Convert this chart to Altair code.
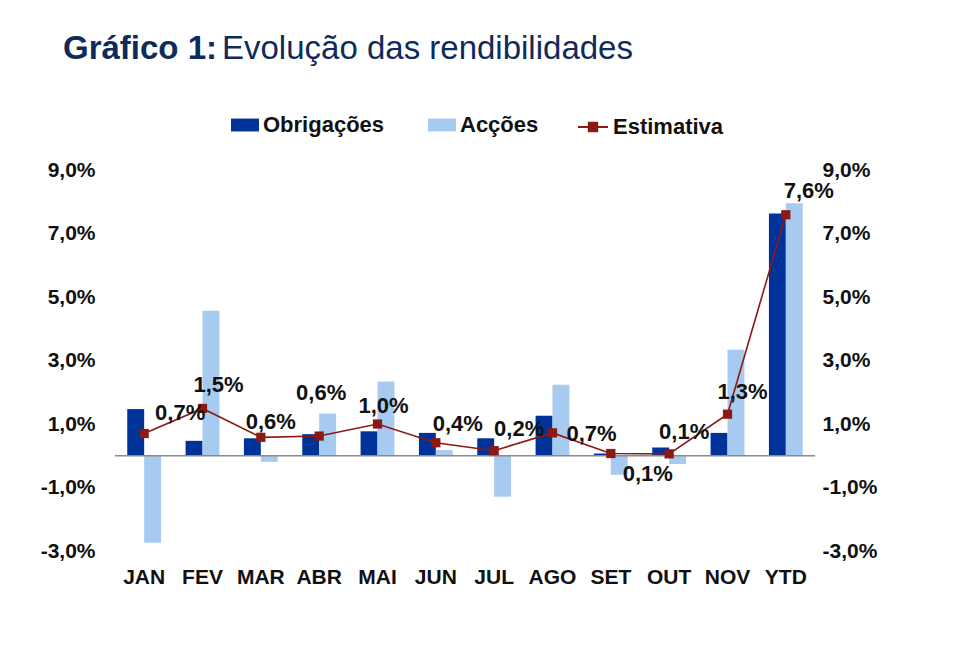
import altair as alt
import pandas as pd

# ---- data ----
meses = ["JAN", "FEV", "MAR", "ABR", "MAI", "JUN", "JUL", "AGO", "SET", "OUT", "NOV", "YTD"]
obrigacoes = [1.47, 0.47, 0.55, 0.68, 0.77, 0.72, 0.55, 1.26, 0.07, 0.26, 0.72, 7.63]
accoes = [-2.74, 4.57, -0.19, 1.33, 2.34, 0.18, -1.29, 2.24, -0.6, -0.26, 3.34, 7.95]
estimativa = [0.70, 1.49, 0.58, 0.62, 1.00, 0.41, 0.16, 0.72, 0.07, 0.06, 1.31, 7.59]
series = ["Obrigações", "Acções"]
y_ticks = [-3, -1, 1, 3, 5, 7, 9]

bars_df = pd.DataFrame(
    {"mes": meses * 2,
     "serie": [series[0]] * len(meses) + [series[1]] * len(meses),
     "valor": obrigacoes + accoes}
)
est_df = pd.DataFrame({"mes": meses, "est": estimativa})

# ---- styles ----
FONT = "Liberation Sans"
DARK = "#003399"
LIGHT = "#a7caf0"
RED = "#8b1a14"
NAVY = "#0f2b5b"
TXT = "#111111"

# placement of each data label relative to its point (dx, dy), as in the original
LABEL_OFFSETS = {
    "JAN": (36, -21), "FEV": (16, -23), "MAR": (10, -15), "ABR": (2, -43),
    "MAI": (6, -18), "JUN": (22, -19), "JUL": (25, -22), "AGO": (39, 1),
    "SET": (37, 20), "OUT": (15, -22), "NOV": (15, -22), "YTD": (23, -24),
}

pct_expr = "replace(replace(format(datum.value, '.1f'), '.', ','), '\u2212', '-') + '%'"

x_enc = alt.X(
    "mes:N", sort=meses, title=None,
    scale=alt.Scale(paddingInner=0.42, paddingOuter=0.21),
    axis=alt.Axis(labelAngle=0, domain=False, ticks=False, tickSize=0, labelPadding=15,
                  labelFont=FONT, labelFontSize=21, labelFontWeight="bold", labelColor=TXT),
)
y_scale = alt.Scale(domain=[-3, 9], nice=False, zero=False)


def y_axis(orient, pad):
    return alt.Axis(orient=orient, values=y_ticks, labelExpr=pct_expr, grid=False, domain=False,
                    ticks=False, tickSize=0, labelPadding=pad, labelFont=FONT, labelFontSize=21,
                    labelFontWeight="bold", labelColor=TXT, title=None)


bars = alt.Chart(bars_df).mark_bar().encode(
    x=x_enc,
    xOffset=alt.XOffset("serie:N", sort=series, scale=alt.Scale(domain=series)),
    y=alt.Y("valor:Q", scale=y_scale, axis=y_axis("left", 20)),
    color=alt.Color(
        "serie:N", scale=alt.Scale(domain=series, range=[DARK, LIGHT]),
        legend=alt.Legend(orient="none", legendX=116, legendY=-59, direction="horizontal",
                          title=None, symbolType="M-1,-0.46H1V0.46H-1Z", symbolSize=784,
                          symbolStrokeWidth=0, labelFont=FONT, labelFontSize=22,
                          labelFontWeight="bold", labelColor=TXT, labelOffset=4,
                          columnPadding=43, labelLimit=300),
    ),
)

zero_rule = alt.Chart(pd.DataFrame({"z": [0]})).mark_rule(color="#8a8a8a", strokeWidth=1.3).encode(
    y=alt.Y("z:Q", scale=y_scale, axis=None)
)

line = alt.Chart(est_df).transform_calculate(nome="'Estimativa'").mark_line(strokeWidth=1.6).encode(
    x=x_enc,
    y=alt.Y("est:Q", scale=y_scale, axis=y_axis("right", 7)),
    stroke=alt.Stroke(
        "nome:N", scale=alt.Scale(domain=["Estimativa"], range=[RED]),
        legend=alt.Legend(orient="none", legendX=462, legendY=-59, direction="horizontal",
                          title=None, symbolType="M-1,0H1M-0.28,-0.28H0.28V0.28H-0.28Z",
                          symbolSize=900, symbolFillColor=RED, symbolStrokeColor=RED,
                          symbolStrokeWidth=2, labelFont=FONT, labelFontSize=22,
                          labelFontWeight="bold", labelColor=TXT, labelOffset=4, labelLimit=300),
    ),
)

points = alt.Chart(est_df).mark_point(shape="square", filled=True, size=85, color=RED, opacity=1).encode(
    x=x_enc,
    y=alt.Y("est:Q", scale=y_scale, axis=None),
)


def label_layer(mes, dx, dy):
    return (
        alt.Chart(est_df)
        .transform_filter(alt.FieldEqualPredicate(field="mes", equal=mes))
        .transform_calculate(lbl="replace(format(datum.est, '.1f'), '.', ',') + '%'")
        .mark_text(font=FONT, fontSize=22, fontWeight="bold", color=TXT, align="center",
                   baseline="middle", dx=dx, dy=dy)
        .encode(x=x_enc, y=alt.Y("est:Q", scale=y_scale, axis=None), text="lbl:N")
    )


label_layers = [label_layer(m, *LABEL_OFFSETS[m]) for m in meses]

title_a = alt.Chart(pd.DataFrame({"t": ["Gráfico 1:"]})).mark_text(
    align="left", baseline="alphabetic", font=FONT, fontSize=33, fontWeight="bold", color=NAVY
).encode(x=alt.value(-52), y=alt.value(-111), text="t:N")
title_b = alt.Chart(pd.DataFrame({"t": ["Evolução das rendibilidades"]})).mark_text(
    align="left", baseline="alphabetic", font=FONT, fontSize=33, fontWeight="normal", color=NAVY
).encode(x=alt.value(107), y=alt.value(-111), text="t:N")

chart = (
    alt.layer(bars, zero_rule, line, points, *label_layers, title_a, title_b)
    .resolve_axis(y="independent")
    .resolve_scale(color="independent")
    .properties(
        width=700, height=381,
        autosize=alt.AutoSizeParams(type="none"),
        padding={"left": 107, "top": 162, "right": 130, "bottom": 100},
    )
    .configure(background="white")
    .configure_view(stroke=None)
)

chart.save("out.html", embed_options={"renderer": "svg", "actions": False})
